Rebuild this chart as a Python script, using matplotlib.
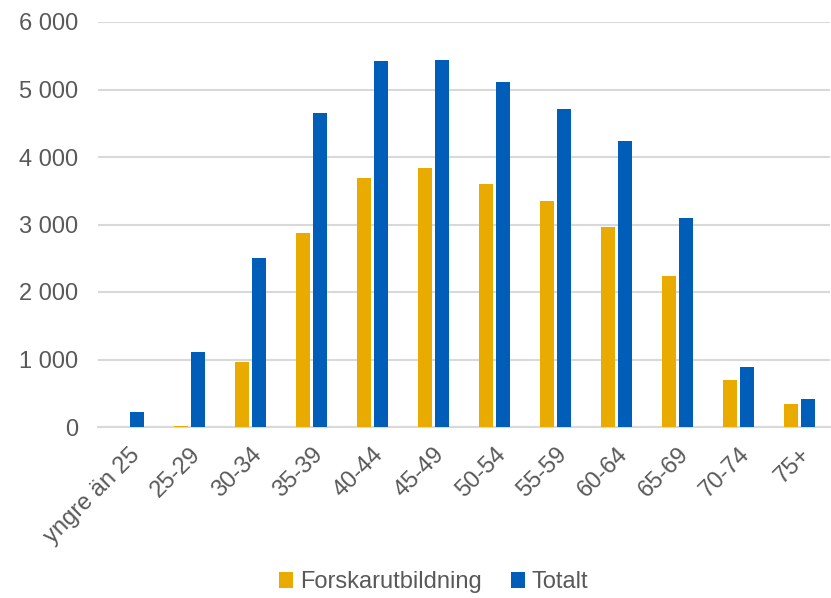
import numpy as np
import matplotlib.pyplot as plt
from matplotlib.ticker import FuncFormatter

plt.rcParams['font.family'] = ['Liberation Sans', 'DejaVu Sans']

l_cat = ['yngre än 25', '25-29', '30-34', '35-39', '40-44', '45-49',
         '50-54', '55-59', '60-64', '65-69', '70-74', '75+']
l_fors = [0, 10, 960, 2870, 3690, 3835, 3595, 3345, 2960, 2230, 690, 345]
l_tot = [225, 1105, 2500, 4655, 5420, 5440, 5110, 4710, 4240, 3100, 895, 415]

COL_FORS = '#EAAB00'
COL_TOT = '#005EB8'
COL_TXT = '#595959'
COL_GRID = '#D9D9D9'

fig = plt.figure(figsize=(8.31, 5.98), dpi=100)
ax = fig.add_axes([98 / 831, 1 - 427 / 598, 732 / 831, 405 / 598])

x = np.arange(len(l_cat))
wid = 0.24
ax.bar(x - 0.14, l_fors, width=wid, color=COL_FORS, label='Forskarutbildning', zorder=3)
ax.bar(x + 0.14, l_tot, width=wid, color=COL_TOT, label='Totalt', zorder=3)

ax.set_xlim(-0.5, len(l_cat) - 0.5)
ax.set_ylim(0, 6000)
ax.set_yticks(range(0, 6001, 1000))
ax.yaxis.set_major_formatter(FuncFormatter(lambda v, p: f'{int(v):,}'.replace(',', ' ')))
ax.grid(axis='y', color=COL_GRID, linewidth=1.5, zorder=0)

for side in ['top', 'right', 'left']:
    ax.spines[side].set_visible(False)
ax.spines['bottom'].set_color(COL_GRID)
ax.spines['bottom'].set_linewidth(1.5)

ax.set_xticks(x)
ax.set_xticklabels(l_cat, rotation=45, ha='right', rotation_mode='anchor')
ax.tick_params(axis='both', length=0, labelsize=17, colors=COL_TXT, pad=12)
ax.tick_params(axis='y', pad=14)

leg = fig.legend(loc='lower center', bbox_to_anchor=(0.522, -0.028), ncol=2, frameon=False,
                 fontsize=17, handlelength=0.6, handleheight=0.7, handletextpad=0.3,
                 columnspacing=1.2)
for txt in leg.get_texts():
    txt.set_color(COL_TXT)

fig.savefig('out.png', dpi=100)
